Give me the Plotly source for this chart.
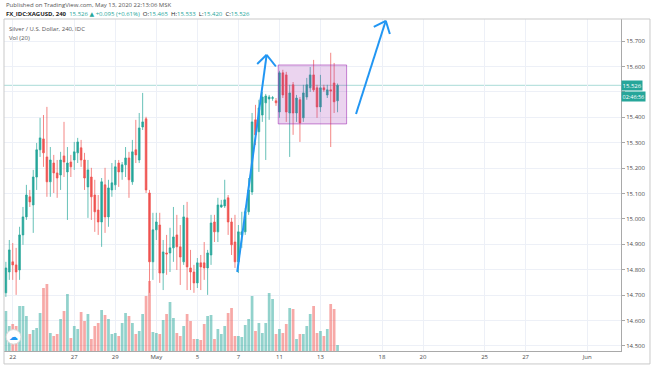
import pandas as pd
import plotly.graph_objects as go

# ---------------- data (XAGUSD, 240-minute bars, MSK) ----------------
open_ = [14.709, 14.791, 14.831, 14.819, 14.799, 14.937, 15.008, 15.087, 15.055, 15.165,
         15.272, 15.315, 15.244, 15.146, 15.220, 15.181, 15.173, 15.248, 15.185, 15.224,
         15.232, 15.260, 15.280, 15.232, 15.126, 15.165, 15.094, 15.035, 14.988, 15.134,
         15.008, 15.114, 15.134, 15.220, 15.185, 15.213, 15.240, 15.146, 15.272, 15.232,
         15.362, 15.394, 15.102, 14.831, 14.957, 14.976, 14.787, 14.866, 14.866, 14.886,
         14.937, 14.890, 14.831, 15.004, 14.807, 14.791, 14.748, 14.827, 14.827, 14.807,
         14.858, 14.988, 14.949, 15.047, 15.051, 15.083, 14.988, 14.909, 14.831, 14.937,
         14.949, 15.028, 15.106, 15.390, 15.343, 15.409, 15.457, 15.472, 15.475, 15.465,
         15.421, 15.575, 15.567, 15.417, 15.528, 15.417, 15.469, 15.398, 15.480, 15.516,
         15.567, 15.516, 15.441, 15.516, 15.488, 15.508, 15.535, 15.465]
high = [14.831, 14.917, 14.905, 14.886, 14.969, 15.047, 15.134, 15.114, 15.193, 15.299,
        15.398, 15.409, 15.441, 15.283, 15.252, 15.232, 15.264, 15.382, 15.283, 15.252,
        15.303, 15.319, 15.311, 15.260, 15.232, 15.201, 15.154, 15.094, 15.161, 15.201,
        15.154, 15.220, 15.232, 15.232, 15.224, 15.283, 15.264, 15.311, 15.390, 15.417,
        15.496, 15.402, 15.114, 15.024, 15.024, 15.024, 14.917, 14.937, 14.965, 15.047,
        15.016, 14.976, 15.055, 15.067, 14.878, 14.819, 14.846, 14.858, 14.909, 14.878,
        15.016, 15.016, 15.083, 15.075, 15.154, 15.094, 15.004, 15.016, 14.976, 15.028,
        15.043, 15.161, 15.417, 15.449, 15.469, 15.500, 15.492, 15.488, 15.484, 15.476,
        15.583, 15.587, 15.579, 15.528, 15.539, 15.488, 15.480, 15.528, 15.555, 15.598,
        15.626, 15.528, 15.567, 15.528, 15.528, 15.654, 15.614, 15.533]
low = [14.693, 14.760, 14.760, 14.701, 14.760, 14.898, 14.996, 15.047, 14.945, 15.114,
       15.244, 15.205, 15.087, 15.087, 15.102, 15.083, 15.114, 15.165, 14.996, 15.165,
       15.193, 15.220, 15.205, 15.114, 15.004, 14.996, 14.949, 14.937, 14.890, 14.945,
       14.969, 15.087, 15.114, 15.126, 15.154, 15.165, 15.083, 15.134, 15.220, 15.220,
       15.350, 15.102, 14.709, 14.760, 14.917, 14.748, 14.720, 14.780, 14.791, 14.831,
       14.799, 14.740, 14.819, 14.720, 14.720, 14.709, 14.728, 14.720, 14.760, 14.701,
       14.819, 14.909, 14.909, 15.043, 15.043, 14.937, 14.858, 14.807, 14.787, 14.886,
       14.937, 15.016, 15.094, 15.291, 15.185, 15.382, 15.232, 15.390, 15.465, 15.445,
       15.398, 15.476, 15.382, 15.244, 15.331, 15.382, 15.303, 15.382, 15.469, 15.500,
       15.500, 15.398, 15.421, 15.500, 15.476, 15.283, 15.417, 15.420]
close = [14.807, 14.878, 14.819, 14.791, 14.937, 15.008, 15.094, 15.067, 15.165, 15.272,
         15.319, 15.260, 15.146, 15.232, 15.181, 15.161, 15.232, 15.224, 15.220, 15.205,
         15.264, 15.303, 15.232, 15.161, 15.193, 15.087, 15.028, 14.988, 15.146, 15.008,
         15.122, 15.142, 15.205, 15.185, 15.213, 15.240, 15.154, 15.264, 15.252, 15.358,
         15.382, 15.114, 14.831, 14.957, 14.988, 14.787, 14.870, 14.862, 14.886, 14.929,
         14.890, 14.850, 15.008, 14.811, 14.791, 14.748, 14.827, 14.811, 14.807, 14.866,
         14.984, 14.949, 15.055, 15.055, 15.075, 14.988, 14.898, 14.831, 14.949, 14.949,
         15.028, 15.114, 15.382, 15.331, 15.437, 15.480, 15.484, 15.480, 15.477, 15.457,
         15.575, 15.488, 15.421, 15.496, 15.417, 15.476, 15.378, 15.496, 15.528, 15.567,
         15.508, 15.441, 15.516, 15.508, 15.508, 15.504, 15.461, 15.526]
volume = [4000, 2500, 2700, 2500, 4500, 4500, 3500, 1700, 2100, 2300,
          3800, 6300, 6700, 1800, 1500, 1700, 3200, 4000, 5700, 1300,
          2500, 2200, 3900, 3000, 3700, 1200, 2500, 2800, 4100, 3600,
          3200, 1700, 1800, 1500, 2800, 3800, 3500, 2800, 1700, 2000,
          3700, 5500, 7000, 1900, 1800, 1700, 3100, 3700, 4900, 3300,
          1800, 1500, 2500, 3700, 3000, 1200, 1200, 1100, 2700, 3500,
          3600, 1200, 2200, 1700, 2500, 3800, 4300, 1500, 1500, 1400,
          2600, 3200, 5500, 2000, 2800, 1800, 2800, 5800, 5200, 1700,
          2200, 1800, 2700, 4300, 4200, 1200, 1700, 1700, 2500, 3700,
          4500, 1800, 2000, 1500, 2200, 4700, 4200, 600]

first_bar = "2020-04-21 16:00"
tick_dates = ["2020-04-22", "2020-04-27", "2020-04-29", "2020-05-01", "2020-05-05",
              "2020-05-07", "2020-05-11", "2020-05-13", "2020-05-18", "2020-05-20",
              "2020-05-25", "2020-05-27", "2020-06-01"]
tick_labels = ["22", "27", "29", "May", "5", "7", "11", "13", "18", "20", "25", "27", "Jun"]
price_ticks = [14.5, 14.6, 14.7, 14.8, 14.9, 15.0, 15.1, 15.2, 15.3, 15.4, 15.5, 15.6, 15.7]
# 15.500 label is hidden behind the last-price tag in the original
price_labels = ["14.500", "14.600", "14.700", "14.800", "14.900", "15.000", "15.100",
                "15.200", "15.300", "15.400", "", "15.600", "15.700"]

# drawings (time, price anchors)
rect_box = dict(t0="2020-05-08 22:36", t1="2020-05-14 06:36", p0=15.374, p1=15.606)
arrow1 = dict(start=("2020-05-06 22:38", 14.791), tip=("2020-05-08 09:02", 15.646),
              left=("2020-05-07 22:00", 15.610), right=("2020-05-08 19:55", 15.600))
arrow2 = dict(start=("2020-05-14 17:36", 15.413), tip=("2020-05-18 04:24", 15.780),
              left=("2020-05-15 14:24", 15.756), right=("2020-05-18 09:12", 15.728))
last_price = 15.526

# ---------------- figure ----------------
all_bars = pd.date_range(first_bar, "2020-06-05", freq="4h")
bars = all_bars[all_bars.dayofweek < 5]
times = bars[:len(close)]

UP, DN = "#26a69a", "#ef5350"
vol_colors = ["rgba(38,166,154,0.5)" if c >= o else "rgba(239,83,80,0.5)"
              for o, c in zip(open_, close)]

fig = go.Figure()
fig.add_trace(go.Bar(x=times, y=volume, marker=dict(color=vol_colors, line=dict(width=0)),
                     yaxis="y", showlegend=False, hoverinfo="skip"))
fig.add_trace(go.Candlestick(
    x=times, open=open_, high=high, low=low, close=close, yaxis="y2",
    increasing=dict(line=dict(color="rgba(38,166,154,0.7)", width=1), fillcolor=UP),
    decreasing=dict(line=dict(color="rgba(239,83,80,0.7)", width=1), fillcolor=DN),
    whiskerwidth=0, showlegend=False))

FONT = "Open Sans, DejaVu Sans, sans-serif"
GRID = "#edf0f7"
AXIS = "#a9a9a9"

fig.update_layout(
    width=654, height=366,
    margin=dict(l=4, r=33, t=19, b=15),
    paper_bgcolor="white", plot_bgcolor="white",
    font=dict(family=FONT, size=6, color="#4a4a4a"),
    bargap=0.2, boxgap=0.3,
    xaxis=dict(
        type="date",
        range=["2020-04-21 13:48", "2020-06-02 15:36"],
        rangebreaks=[dict(bounds=["sat", "mon"])],
        tickvals=tick_dates, ticktext=tick_labels,
        showgrid=True, gridcolor=GRID, gridwidth=1,
        showline=True, linecolor=AXIS, linewidth=1,
        ticks="", tickfont=dict(size=6, color="#4a4a4a"),
        rangeslider=dict(visible=False), zeroline=False,
    ),
    yaxis=dict(range=[0, 33200], visible=False, fixedrange=True),
    yaxis2=dict(
        overlaying="y", side="right", anchor="x",
        range=[14.480, 15.787],
        tickvals=price_ticks, ticktext=price_labels,
        showgrid=True, gridcolor=GRID, gridwidth=1,
        showline=True, linecolor=AXIS, linewidth=1, mirror=False,
        ticks="outside", ticklen=3, tickcolor=AXIS,
        tickfont=dict(size=6, color="#4a4a4a"), zeroline=False,
    ),
)

shapes = []
# last price line
shapes.append(dict(type="line", xref="paper", x0=0, x1=1, yref="y2", y0=last_price, y1=last_price,
                   line=dict(color="rgba(38,166,154,0.4)", width=1), layer="below"))
# rectangle
shapes.append(dict(type="rect", xref="x", yref="y2", x0=rect_box["t0"], x1=rect_box["t1"],
                   y0=rect_box["p0"], y1=rect_box["p1"],
                   fillcolor="rgba(156,39,176,0.2)", line=dict(color="rgba(156,39,176,0.55)", width=1),
                   layer="above"))
# arrows
for arr in (arrow1, arrow2):
    for a, b in (("start", "tip"), ("left", "tip"), ("right", "tip")):
        shapes.append(dict(type="line", xref="x", yref="y2",
                           x0=arr[a][0], y0=arr[a][1], x1=arr[b][0], y1=arr[b][1],
                           line=dict(color="#2196f3", width=2), layer="above"))
# outer frame
shapes.append(dict(type="rect", xref="paper", yref="paper", x0=0, x1=1.047, y0=-0.039, y1=1,
                   line=dict(color="#c9c9c9", width=1), fillcolor="rgba(0,0,0,0)", layer="above"))
# logo circle
shapes.append(dict(type="circle", xref="paper", yref="paper", x0=0.0035, x1=0.0275,
                   y0=0.0205, y1=0.0645, fillcolor="white", line=dict(color="#d8d8d8", width=1),
                   layer="above"))
fig.update_layout(shapes=shapes)

teal = "#26a69a"
hdr2 = ("<b>FX_IDC:XAGUSD, 240</b>  <span style='color:#26a69a'>15.526 \u25b2 +0.095 (+0.61%)</span>  "
        "O:<span style='color:#26a69a'>15.465</span>  H:<span style='color:#26a69a'>15.533</span>  "
        "L:<span style='color:#26a69a'>15.420</span>  C:<span style='color:#26a69a'>15.526</span>")
ann = [
    dict(xref="paper", yref="paper", x=0.0, y=1.042, xanchor="left", yanchor="middle",
         text="Published on TradingView.com, May 13, 2020 22:13:06 MSK", showarrow=False,
         font=dict(size=6, color="#555")),
    dict(xref="paper", yref="paper", x=0.0, y=1.015, xanchor="left", yanchor="middle",
         text=hdr2, showarrow=False, font=dict(size=6, color="#222")),
    dict(xref="paper", yref="paper", x=0.005, y=0.970, xanchor="left", yanchor="middle",
         text="Silver / U.S. Dollar, 240, IDC", showarrow=False, font=dict(size=6, color="#555")),
    dict(xref="paper", yref="paper", x=0.005, y=0.943, xanchor="left", yanchor="middle",
         text="Vol (20)", showarrow=False, font=dict(size=6, color="#555")),
    dict(xref="paper", yref="y2", x=1.0, y=last_price, xanchor="left", yanchor="middle",
         text="15.526", showarrow=False, bgcolor=teal, borderpad=0.5,
         font=dict(size=6, color="white")),
    dict(xref="paper", yref="y2", x=1.0, y=last_price, xanchor="left", yanchor="top",
         yshift=-5.5, text="02:46:56", showarrow=False, bgcolor=teal, borderpad=0.5,
         font=dict(size=5.5, color="white")),
    dict(xref="paper", yref="paper", x=0.0155, y=0.0425, xanchor="center", yanchor="middle",
         text="\u2601", showarrow=False, font=dict(size=9, color="#2196f3", family="DejaVu Sans")),
]
fig.update_layout(annotations=ann)

fig.write_html("out.html", config={"displayModeBar": False},
               post_script="document.body.style.margin='0px';")
